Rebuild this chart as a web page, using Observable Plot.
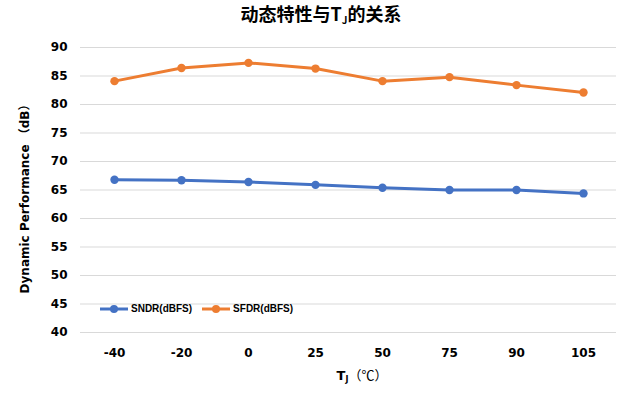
<!DOCTYPE html>
<html><head><meta charset="utf-8">
<script src="https://cdn.jsdelivr.net/npm/d3@7"></script>
<script src="https://cdn.jsdelivr.net/npm/@observablehq/plot@0.6"></script>
<style>
body{margin:0;background:#fff;}
#wrap{position:relative;width:642px;height:393px;font-family:"DejaVu Sans",sans-serif;}
#title{position:absolute;left:0;top:0px;width:642px;text-align:center;font-family:"Noto Sans CJK SC",sans-serif;font-weight:bold;font-size:18px;color:#000;}
#title sub{font-size:10px;vertical-align:-3px;}
#chart{position:absolute;left:0;top:30px;}
#xlabel{position:absolute;left:0;top:365px;width:642px;padding-left:82px;box-sizing:border-box;text-align:center;font-weight:bold;font-size:13px;color:#000;font-family:"DejaVu Sans","Noto Sans CJK SC",sans-serif;}
#xlabel sub{font-size:8px;vertical-align:-2px;}
#xlabel .p{font-family:"Noto Sans CJK SC",sans-serif;font-weight:normal;}
#legend{position:absolute;left:100px;top:303px;display:flex;gap:10px;font-size:10px;font-weight:bold;color:#000;align-items:center;font-family:"Liberation Sans",sans-serif;}
#legend span{display:flex;align-items:center;gap:3px;}
</style></head>
<body>
<div id="wrap">
  <div id="title">动态特性与T<sub>J</sub>的关系</div>
  <div id="chart"></div>
  <div id="xlabel">T<sub>J</sub><span class="p">（℃）</span></div>
  <div id="legend"></div>
</div>
<script>
const temps = ["-40","-20","0","25","50","75","90","105"];
const sndr = [66.8, 66.7, 66.4, 65.9, 65.4, 65.0, 65.0, 64.4];
const sfdr = [84.1, 86.4, 87.3, 86.3, 84.1, 84.8, 83.4, 82.1];
const seriesNames = ["SNDR(dBFS)", "SFDR(dBFS)"];
const seriesColors = ["#4472C4", "#ED7D31"];
const yTicks = [40,45,50,55,60,65,70,75,80,85,90];

const data = [];
temps.forEach((t,i)=>{
  data.push({t, v: sndr[i], s: seriesNames[0]});
  data.push({t, v: sfdr[i], s: seriesNames[1]});
});

const plot = Plot.plot({
  width: 642,
  height: 363,
  marginLeft: 80,
  marginRight: 26,
  marginTop: 17,
  marginBottom: 61,
  style: {fontFamily: "DejaVu Sans, sans-serif", fontSize: "12px", fontWeight: "bold", color: "#000", background: "#fff"},
  x: {type: "point", domain: temps, padding: 0.5, label: null},
  y: {domain: [40, 90], ticks: yTicks, label: null},
  color: {domain: seriesNames, range: seriesColors},
  marks: [
    Plot.gridY(yTicks, {stroke: "#D9D9D9", strokeOpacity: 1, strokeWidth: 1}),
    Plot.axisX({tickSize: 0, tickPadding: 16, fontSize: 12, fontWeight: "bold", label: null}),
    Plot.axisY({ticks: yTicks, tickSize: 0, tickPadding: 13, fontSize: 12, fontWeight: "bold", label: null}),
    Plot.text(["Dynamic Performance （dB）"], {frameAnchor: "left", textAnchor: "middle", dx: -55, dy: 6, rotate: -90, fontSize: 12, fontWeight: "bold", fill: "#000", fontFamily: "DejaVu Sans, Noto Sans CJK SC, sans-serif"}),
    Plot.line(data, {x: "t", y: "v", z: "s", stroke: "s", strokeWidth: 3}),
    Plot.dot(data, {x: "t", y: "v", fill: "s", r: 4.2})
  ]
});
document.getElementById("chart").appendChild(plot);

const lg = d3.select("#legend");
seriesNames.forEach((n,i)=>{
  const sp = lg.append("span");
  const sv = sp.append("svg").attr("width",28).attr("height",10);
  sv.append("line").attr("x1",0).attr("x2",28).attr("y1",5).attr("y2",5).attr("stroke",seriesColors[i]).attr("stroke-width",3);
  sv.append("circle").attr("cx",14).attr("cy",5).attr("r",4).attr("fill",seriesColors[i]);
  sp.append("span").text(n);
});
</script>
</body></html>
